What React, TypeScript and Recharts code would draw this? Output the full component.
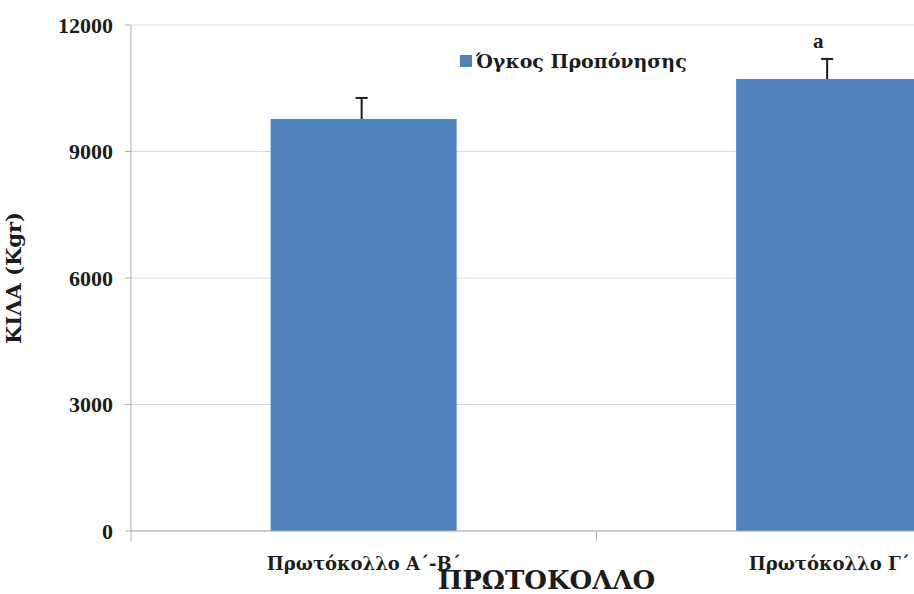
import React from 'react'
import {
  BarChart,
  Bar,
  XAxis,
  YAxis,
  CartesianGrid,
  LabelList,
  Label
} from 'recharts'

const protocols = ['Πρωτόκολλο Α΄-Β΄', 'Πρωτόκολλο Γ΄']
const volume = [9770, 10720]
const volumeError = [500, 475]
const significance = ['', 'a']
const yTicks = [0, 3000, 6000, 9000, 12000]

const data = protocols.map((name, i) => ({
  name,
  volume: volume[i],
  err: volumeError[i],
  note: significance[i]
}))

const FONT = '"Liberation Serif", "Times New Roman", serif'
// Greek text needs a serif face that actually carries the glyphs
const FONT_GR = '"DejaVu Serif", "Liberation Serif", serif'
const BLUE = '#4f81bd'
const INK = '#1c1c1c'
const AXIS = '#b0b0b0'

// bar with an upper-only error whisker (T shape), scaled from the bar's own height
function BarWithError(props: any) {
  const { x, y, width, height, payload, fill } = props
  const perUnit = payload.volume ? height / payload.volume : 0
  const cx = x + width / 2 - 2
  const top = y - payload.err * perUnit
  return (
    <g>
      <rect x={x} y={y} width={width} height={height} fill={fill} />
      <line x1={cx} x2={cx} y1={y} y2={top} stroke={INK} strokeWidth={2} />
      <line x1={cx - 6} x2={cx + 6} y1={top} y2={top} stroke={INK} strokeWidth={2} />
    </g>
  )
}

function CategoryTick(props: any) {
  const { x, y, payload } = props
  const half = payload?.offset ?? 0
  return (
    <g>
      <line x1={x - half} x2={x - half} y1={y - 8} y2={y + 2} stroke={AXIS} />
      <line x1={x + half} x2={x + half} y1={y - 8} y2={y + 2} stroke={AXIS} />
      <text
        x={x}
        y={y + 31}
        textAnchor="middle"
        fontFamily={FONT_GR}
        fontWeight="bold"
        fontSize={18}
        fill={INK}
      >
        {payload.value}
      </text>
    </g>
  )
}

function NoteLabel(props: any) {
  const { x, y, width, value } = props
  if (!value) return null
  return (
    <text
      x={x + width / 2 - 11}
      y={y - 31}
      textAnchor="middle"
      fontFamily={FONT}
      fontWeight="bold"
      fontSize={21}
      fill={INK}
    >
      {value}
    </text>
  )
}

export default function App() {
  return (
    <div style={{ position: 'fixed', left: 0, top: 0, width: 914, height: 594, overflow: 'hidden', background: '#fff' }}>
      <BarChart
        width={1070}
        height={594}
        data={data}
        margin={{ top: 25, right: 8, left: 0, bottom: 0 }}
        barCategoryGap="30%"
      >
        <CartesianGrid vertical={false} stroke="#d9d9d9" />
        <XAxis
          dataKey="name"
          height={63}
          axisLine={{ stroke: AXIS }}
          tickLine={false}
          tick={<CategoryTick />}
          interval={0}
        >
          <Label
            content={({ viewBox }: any) => (
              <text
                x={viewBox.x + viewBox.width / 2 - 50}
                y={viewBox.y + 58}
                textAnchor="middle"
                fontFamily={FONT_GR}
                fontWeight="bold"
                fontSize={26}
                fill={INK}
              >
                ΠΡΩΤΟΚΟΛΛΟ
              </text>
            )}
          />
        </XAxis>
        <YAxis
          width={131}
          domain={[0, 12000]}
          ticks={yTicks}
          axisLine={{ stroke: AXIS }}
          tickLine={{ stroke: AXIS }}
          tickSize={6}
          tickMargin={12}
          tick={{ fontFamily: FONT, fontWeight: 'bold', fontSize: 22, fill: INK }}
        >
          <Label
            value="ΚΙΛΑ (Kgr)"
            angle={-90}
            position="insideLeft"
            offset={14}
            style={{ textAnchor: 'middle', fontFamily: FONT_GR, fontWeight: 'bold', fontSize: 21, fill: INK }}
          />
        </YAxis>
        <Bar dataKey="volume" fill={BLUE} isAnimationActive={false} shape={<BarWithError />}>
          <LabelList dataKey="note" content={<NoteLabel />} />
        </Bar>
      </BarChart>
      <div
        style={{
          position: 'absolute',
          left: 460,
          top: 50,
          display: 'flex',
          alignItems: 'center',
          fontFamily: FONT_GR,
          fontWeight: 'bold',
          fontSize: 19,
          color: INK,
          whiteSpace: 'nowrap'
        }}
      >
        <span style={{ display: 'inline-block', width: 12, height: 12, background: BLUE, marginRight: 4 }} />
        <span>Όγκος Προπόνησης</span>
      </div>
    </div>
  )
}
